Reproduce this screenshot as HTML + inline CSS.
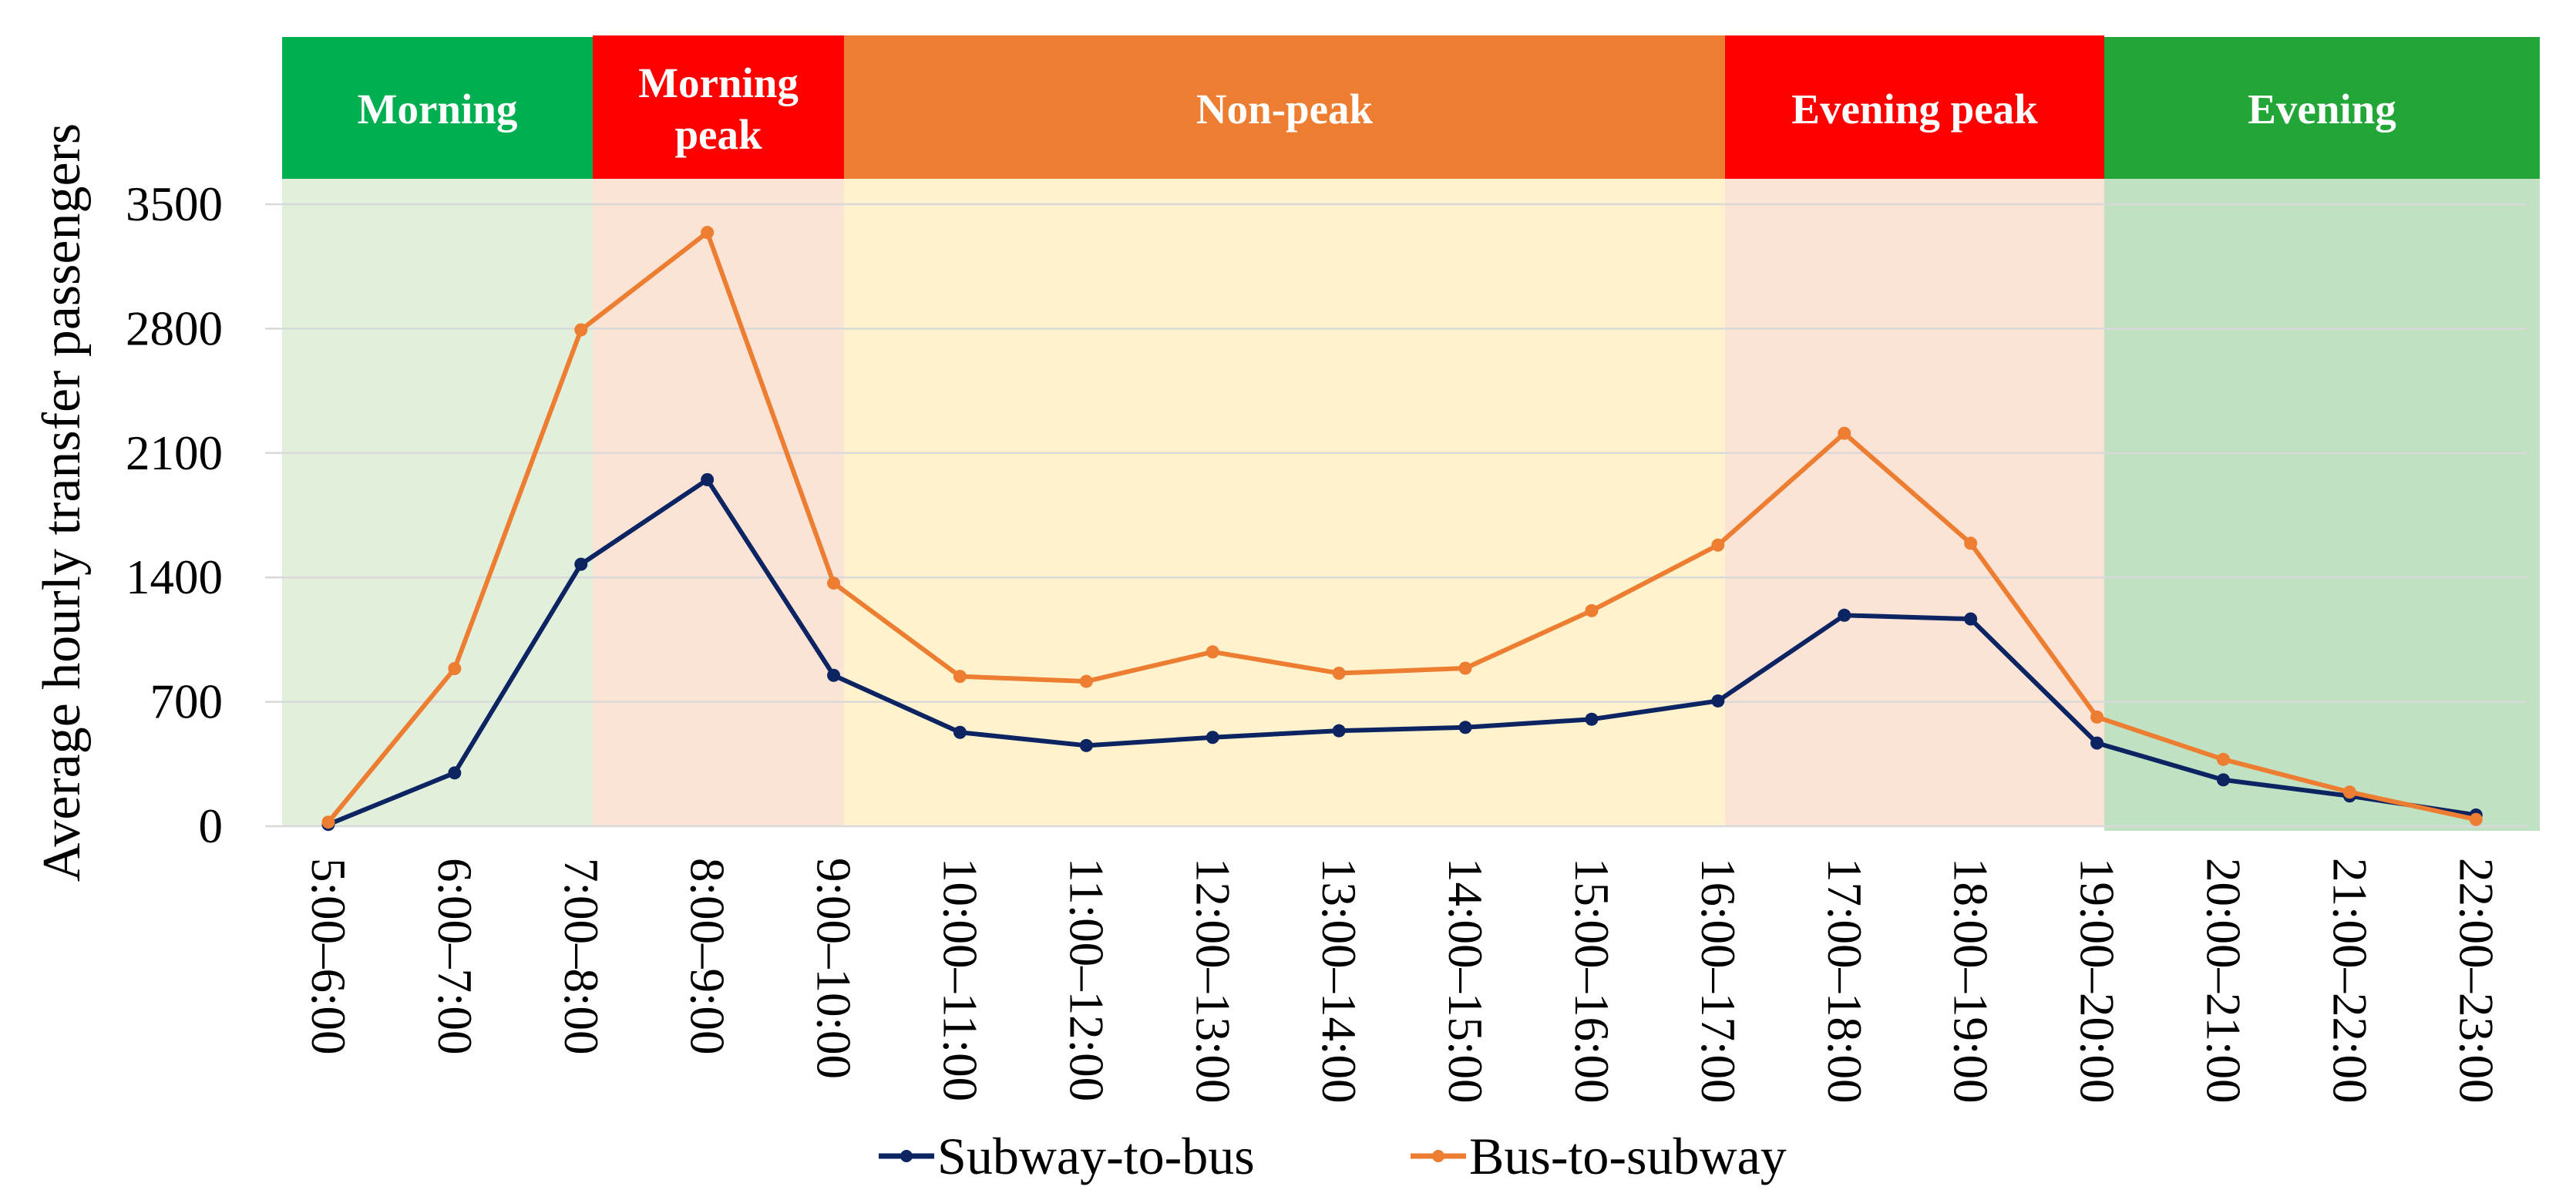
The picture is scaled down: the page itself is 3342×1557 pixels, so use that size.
<!DOCTYPE html>
<html><head><meta charset="utf-8"><style>
html,body{margin:0;padding:0;background:#fff;}
svg{display:block;}
text{font-family:"Liberation Serif",serif;}
</style></head><body>
<svg id="chart" width="3342" height="1557" viewBox="0 0 3342 1557" xmlns="http://www.w3.org/2000/svg">
<g id="bands"></g>
<g id="grid"></g>
<g id="yticks"></g>
<g id="xticks"></g>
<g id="series"></g>
<text x="0" y="0" transform="translate(103,652) rotate(-90)" text-anchor="middle" font-size="70" fill="#000">Average hourly transfer passengers</text>
<g>
<g>
<line x1="1140" y1="1500" x2="1212" y2="1500" stroke="#0D2463" stroke-width="7"/>
<circle cx="1176" cy="1500" r="8" fill="#0D2463"/>
<text x="1216" y="1523" font-size="68" fill="#000">Subway-to-bus</text>
</g>
<g>
<line x1="1830" y1="1500" x2="1902" y2="1500" stroke="#ED7D31" stroke-width="7"/>
<circle cx="1866" cy="1500" r="8" fill="#ED7D31"/>
<text x="1906" y="1523" font-size="68" fill="#000">Bus-to-subway</text>
</g>
</g>
</svg>
<script>
const categories = ["5:00–6:00","6:00–7:00","7:00–8:00","8:00–9:00","9:00–10:00","10:00–11:00","11:00–12:00","12:00–13:00","13:00–14:00","14:00–15:00","15:00–16:00","16:00–17:00","17:00–18:00","18:00–19:00","19:00–20:00","20:00–21:00","21:00–22:00","22:00–23:00"];
const subwayToBus = [10,300,1474,1950,849,528,454,500,537,556,602,705,1187,1166,468,261,170,63];
const busToSubway = [23,887,2793,3341,1368,843,815,981,861,889,1213,1582,2211,1592,614,376,192,38];
const yTicks = [0,700,1400,2100,2800,3500];
const periodNames = ["Morning","Morning peak","Non-peak","Evening peak","Evening"];

const NS="http://www.w3.org/2000/svg";
const X0=344, STEP=163.9, Y0=1072, YMAX=3500, YTOP=265;
function xPos(i){return X0+STEP*(i+0.5);}
function yPos(v){return Y0-(v/YMAX)*(Y0-YTOP);}
function mk(tag,attrs,parent){const e=document.createElementNS(NS,tag);for(const k in attrs)e.setAttribute(k,attrs[k]);parent.appendChild(e);return e;}

const bandFill=["#E2EFDA","#FBE4D5","#FFF2CC","#FBE4D5","#C0E1C2"];
const headFill=["#00B050","#FF0000","#ED7D31","#FF0000","#22A637"];
const bands=document.getElementById('bands');
const edges=[366,769,1095,2238,2730,3295];
periodNames.forEach((n,i)=>{
  const x1=edges[i], x2=edges[i+1];
  const b=mk('rect',{x:x1,y:232,width:x2-x1,height:(i==4?1078:1072)-232,fill:bandFill[i]},bands);
  
  
  const top=(i==0||i==4)?48:46;
  const h=mk('rect',{x:x1,y:top,width:x2-x1,height:232-top,fill:headFill[i]},bands);
  
  
  const cx=(x1+x2)/2;
  if(n==="Morning peak"){
    const t1=mk('text',{x:cx,y:126,'text-anchor':'middle','font-size':55,'font-weight':'bold',fill:'#fff'},bands);t1.textContent='Morning';
    
    
    const t2=mk('text',{x:cx,y:193,'text-anchor':'middle','font-size':55,'font-weight':'bold',fill:'#fff'},bands);t2.textContent='peak';
    
    
  } else {
    const t=mk('text',{x:cx,y:160,'text-anchor':'middle','font-size':55,'font-weight':'bold',fill:'#fff'},bands);t.textContent=n;
    
    
  }
});

const grid=document.getElementById('grid'), yt=document.getElementById('yticks');
yTicks.forEach(v=>{
  const l=mk('line',{x1:X0,x2:3278,y1:yPos(v),y2:yPos(v),stroke:'#D9D9D9','stroke-width':2.5},grid);
  
  
  const t=mk('text',{x:289,y:yPos(v)+21,'text-anchor':'end','font-size':63,fill:'#000'},yt);
  t.textContent=v;
  
  
});
const xt=document.getElementById('xticks');
categories.forEach((c,i)=>{
  const t=mk('text',{x:0,y:0,transform:'translate('+(xPos(i)-21)+',1113) rotate(90)','font-size':63,fill:'#000'},xt);
  t.textContent=c;
  
  
});
const ser=document.getElementById('series');
function drawSeries(vals,color,name){
  const g=mk('g',{},ser);
  
  
  const pts=vals.map((v,i)=>xPos(i)+','+yPos(v)).join(' ');
  const pl=mk('polyline',{points:pts,fill:'none',stroke:color,'stroke-width':6,'stroke-linejoin':'round'},g);
  
  
  vals.forEach((v,i)=>{
    const c=mk('circle',{cx:xPos(i),cy:yPos(v),r:8.5,fill:color},g);
    
    
  });
}
drawSeries(subwayToBus,'#0D2463','subway-to-bus');
drawSeries(busToSubway,'#ED7D31','bus-to-subway');
</script>
</body></html>
